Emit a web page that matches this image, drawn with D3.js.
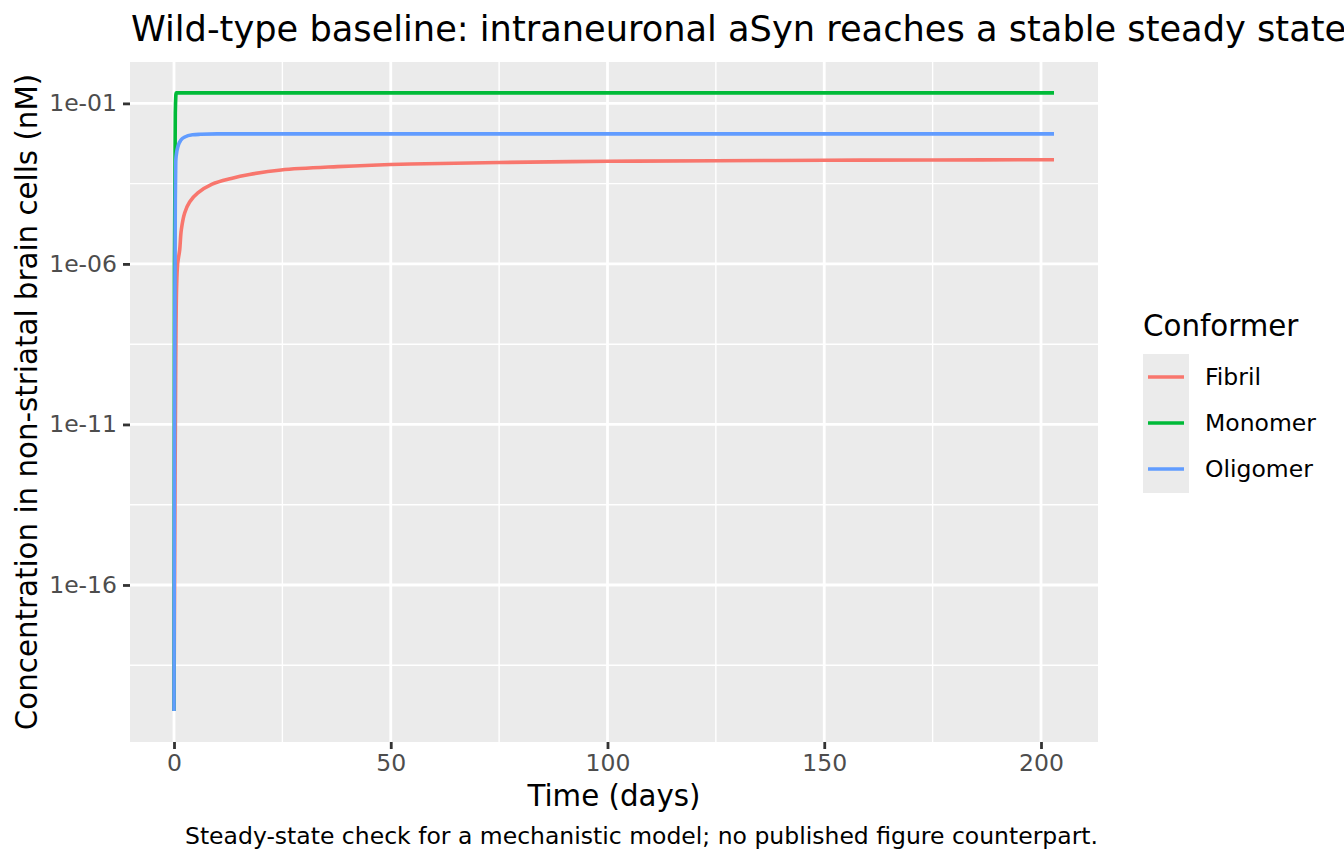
<!DOCTYPE html>
<html>
<head>
<meta charset="utf-8">
<script src="https://cdn.jsdelivr.net/npm/d3@7"></script>
<style>
    body { margin: 0; background: #ffffff; }
    text { font-family: "DejaVu Sans", sans-serif; }
</style>
</head>
<body>
<svg id="chart" width="1344" height="864"></svg>
<script>

// series (time in days, concentration in nM)
const conformers = ["Fibril", "Monomer", "Oligomer"];
const colours = ["#F8766D", "#00BA38", "#619CFF"];

const fibrilTime = [0, 0.2, 0.4, 0.6, 0.85, 1.31, 1.68, 2.46, 3.6, 5.5, 8.8, 13.2, 17.4, 24.7, 37.7, 54.6, 75, 100, 125, 150, 175, 203];
const fibrilConc = [1.18e-20, 1e-14, 1e-9, 2e-7, 1.04e-6, 2.71e-6, 1.14e-5, 3.85e-5, 8.5e-5, 1.62e-4, 3.05e-4, 4.6e-4, 6.1e-4, 8.42e-4, 1.07e-3, 1.29e-3, 1.44e-3, 1.57e-3, 1.63e-3, 1.69e-3, 1.73e-3, 1.76e-3];

const monomerTime = [0, 0.1, 0.3, 0.5, 1, 5, 50, 100, 150, 203];
const monomerConc = [1.18e-20, 1e-6, 0.05, 0.212, 0.212, 0.212, 0.212, 0.212, 0.212, 0.212];

const oligomerTime = [0, 0.1, 0.2, 0.3, 0.4, 0.5, 1, 1.6, 2.5, 4.3, 6, 10, 20, 50, 100, 150, 203];
const oligomerConc = [1.18e-20, 1e-12, 1e-7, 1e-4, 1.5e-3, 2.3e-3, 5e-3, 7.2e-3, 9e-3, 1.05e-2, 1.09e-2, 1.12e-2, 1.12e-2, 1.12e-2, 1.12e-2, 1.12e-2, 1.12e-2];

// axis ticks
const xTicks = [0, 50, 100, 150, 200];
const xMinor = [25, 75, 125, 175];
const yTicks = [1e-1, 1e-6, 1e-11, 1e-16];
const yTickLabels = ["1e-01", "1e-06", "1e-11", "1e-16"];
const yMinor = [Math.pow(10, -3.5), Math.pow(10, -8.5), Math.pow(10, -13.5), Math.pow(10, -18.5)];

const series = [
    { name: conformers[0], colour: colours[0], t: fibrilTime, v: fibrilConc, curve: d3.curveCatmullRom.alpha(0.5) },
    { name: conformers[1], colour: colours[1], t: monomerTime, v: monomerConc, curve: d3.curveMonotoneX },
    { name: conformers[2], colour: colours[2], t: oligomerTime, v: oligomerConc, curve: d3.curveMonotoneX }
];

const svg = d3.select("#chart");
const panel = { left: 130, right: 1098, top: 62, bottom: 742 };

// ggplot style 5% expansion, the y one in log space
const allT = series.flatMap(s => s.t);
const allV = series.flatMap(s => s.v);
const tMin = d3.min(allT), tMax = d3.max(allT);
const tPad = (tMax - tMin) * 0.05;
const lMin = Math.log10(d3.min(allV)), lMax = Math.log10(d3.max(allV));
const lPad = (lMax - lMin) * 0.05;

const x = d3.scaleLinear()
    .domain([tMin - tPad, tMax + tPad])
    .range([panel.left, panel.right]);

const y = d3.scaleLog()
    .domain([Math.pow(10, lMin - lPad), Math.pow(10, lMax + lPad)])
    .range([panel.bottom, panel.top]);

//panel background
svg.append("rect")
    .attr("x", panel.left)
    .attr("y", panel.top)
    .attr("width", panel.right - panel.left)
    .attr("height", panel.bottom - panel.top)
    .attr("fill", "#EBEBEB");

const grid = svg.append("g");

//minor grid lines
grid.selectAll(".xminor").data(xMinor).enter().append("line")
    .attr("x1", d => x(d)).attr("x2", d => x(d))
    .attr("y1", panel.top).attr("y2", panel.bottom)
    .attr("stroke", "#ffffff").attr("stroke-width", 1.4);

grid.selectAll(".yminor").data(yMinor).enter().append("line")
    .attr("y1", d => y(d)).attr("y2", d => y(d))
    .attr("x1", panel.left).attr("x2", panel.right)
    .attr("stroke", "#ffffff").attr("stroke-width", 1.4);

//major grid lines
grid.selectAll(".xmajor").data(xTicks).enter().append("line")
    .attr("x1", d => x(d)).attr("x2", d => x(d))
    .attr("y1", panel.top).attr("y2", panel.bottom)
    .attr("stroke", "#ffffff").attr("stroke-width", 2.8);

grid.selectAll(".ymajor").data(yTicks).enter().append("line")
    .attr("y1", d => y(d)).attr("y2", d => y(d))
    .attr("x1", panel.left).attr("x2", panel.right)
    .attr("stroke", "#ffffff").attr("stroke-width", 2.8);

// lines, each with its own curve
svg.append("g").selectAll("path").data(series).enter().append("path")
    .attr("d", s => d3.line()
        .x(d => x(d[0]))
        .y(d => y(d[1]))
        .curve(s.curve)(s.t.map((t, i) => [t, s.v[i]])))
    .attr("fill", "none")
    .attr("stroke", s => s.colour)
    .attr("stroke-width", 3.6);

// x axis
const xAxis = svg.append("g")
    .attr("transform", "translate(0," + panel.bottom + ")")
    .call(d3.axisBottom(x).tickValues(xTicks).tickSize(7).tickPadding(5).tickFormat(d3.format("d")));
xAxis.select(".domain").remove();
xAxis.selectAll("line").attr("stroke", "#333333").attr("stroke-width", 2.8);
xAxis.selectAll("text")
    .attr("fill", "#4D4D4D")
    .style("font-size", "23.5px")
    .attr("font-family", "DejaVu Sans");

// y axis
const yAxis = svg.append("g")
    .attr("transform", "translate(" + panel.left + ",0)")
    .call(d3.axisLeft(y).tickValues(yTicks).tickSize(7).tickPadding(6)
        .tickFormat((d, i) => yTickLabels[i]));
yAxis.select(".domain").remove();
yAxis.selectAll("line").attr("stroke", "#333333").attr("stroke-width", 2.8);
yAxis.selectAll("text")
    .attr("fill", "#4D4D4D")
    .style("font-size", "23.5px")
    .attr("font-family", "DejaVu Sans");

// titles
svg.append("text")
    .attr("x", panel.left + 1)
    .attr("y", 41)
    .style("font-size", "35.2px")
    .attr("fill", "#000000")
    .text("Wild-type baseline: intraneuronal aSyn reaches a stable steady state");

svg.append("text")
    .attr("x", (panel.left + panel.right) / 2)
    .attr("y", 806)
    .attr("text-anchor", "middle")
    .style("font-size", "29.3px")
    .text("Time (days)");

svg.append("text")
    .attr("transform", "translate(37," + (panel.top + panel.bottom) / 2 + ") rotate(-90)")
    .attr("text-anchor", "middle")
    .style("font-size", "29.3px")
    .text("Concentration in non-striatal brain cells (nM)");

svg.append("text")
    .attr("x", panel.right)
    .attr("y", 844)
    .attr("text-anchor", "end")
    .style("font-size", "23.5px")
    .text("Steady-state check for a mechanistic model; no published figure counterpart.");

// legend
const legend = svg.append("g").attr("transform", "translate(1143, 0)");

legend.append("text")
    .attr("x", 0)
    .attr("y", 336)
    .style("font-size", "29.3px")
    .text("Conformer");

legend.append("rect")
    .attr("x", 0)
    .attr("y", 354)
    .attr("width", 46)
    .attr("height", 139)
    .attr("fill", "#EBEBEB");

const keys = legend.selectAll(".key").data(series).enter().append("g")
    .attr("transform", (d, i) => "translate(0," + (377 + i * 46) + ")");

keys.append("line")
    .attr("x1", 5).attr("x2", 41)
    .attr("stroke", d => d.colour)
    .attr("stroke-width", 3.6);

keys.append("text")
    .attr("x", 62)
    .attr("y", 8)
    .style("font-size", "23.5px")
    .text(d => d.name);

</script>
</body>
</html>
